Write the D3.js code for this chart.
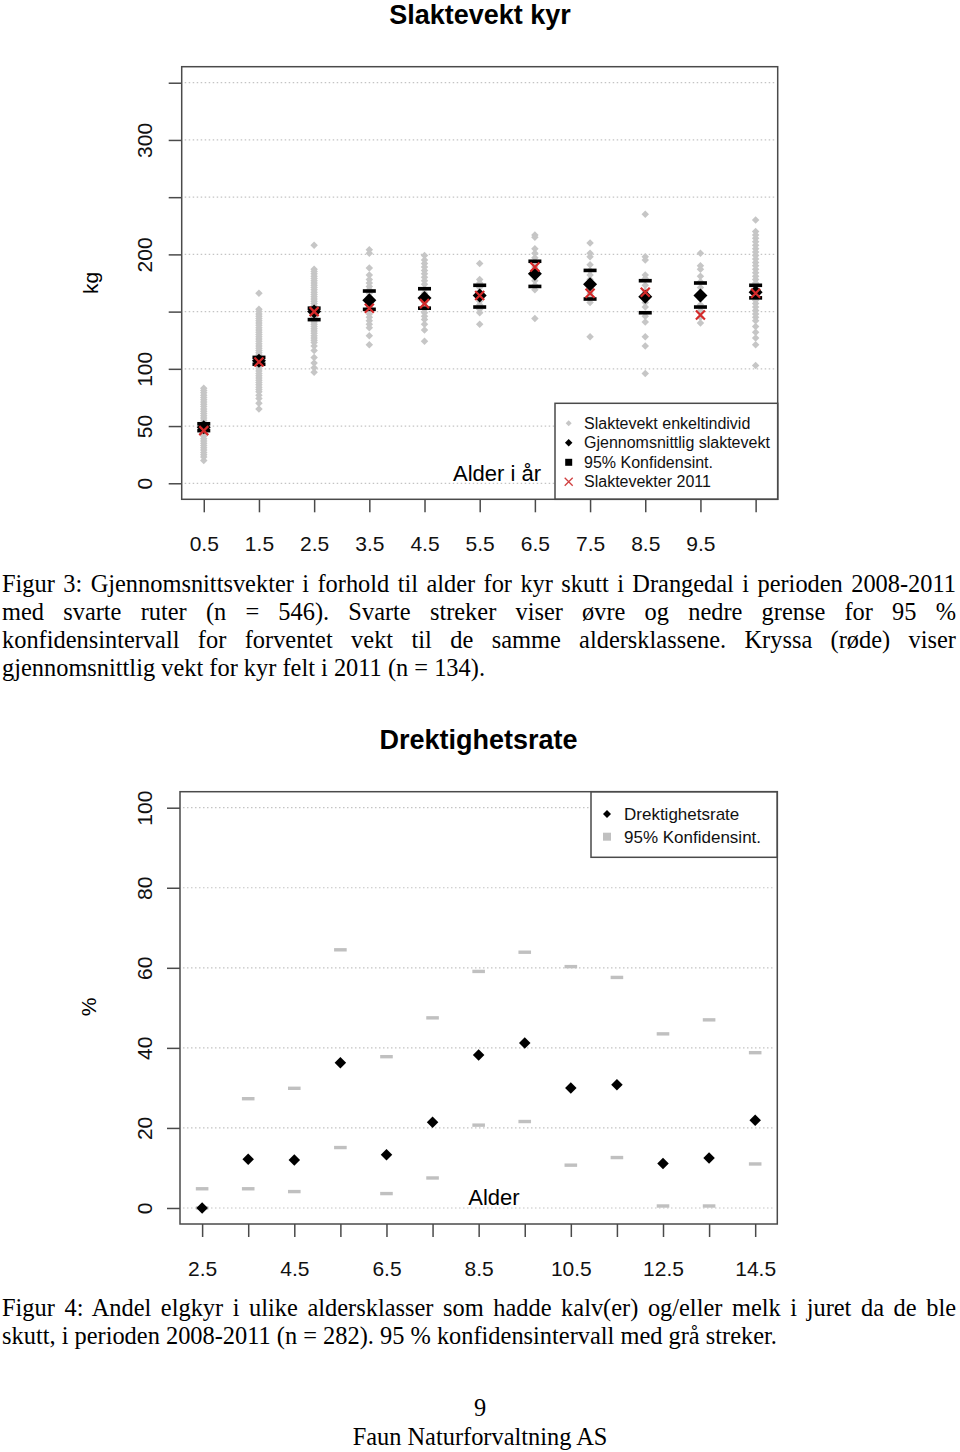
<!DOCTYPE html>
<html><head><meta charset="utf-8">
<script src="https://cdn.jsdelivr.net/npm/d3@7"></script>
<style>body{margin:0;background:#fff} svg{display:block}</style>
</head><body><svg id="c" width="960" height="1452"></svg>
<script>
// ---------- Data: Slaktevekt kyr ----------
const ages = [0.5, 1.5, 2.5, 3.5, 4.5, 5.5, 6.5, 7.5, 8.5, 9.5, 10.5];
const ageTickLabels = ["0.5","1.5","2.5","3.5","4.5","5.5","6.5","7.5","8.5","9.5",""];
const w05 = [83,81,79,77,75,73,71,69,67,65,63,61,59,57,55,53,51,49,47,45,43,41,39,37,35,33,31,29,27,25,23,20];
const w15 = [166,152,150,148,146,144,142,140,138,136,134,132,130,128,126,124,122,120,118,116,114,112,110,108,106,104,102,100,98,96,94,92,90,88,86,84,82,80,77,74,70,65];
const w25 = [208,187,185,183,181,179,177,175,173,171,169,167,165,163,161,159,157,155,153,151,149,147,145,143,141,139,137,135,133,131,129,127,125,123,120,116,110,105,101,97];
const w35 = [204,201,188,182,178,175,172,169,166,163,160,157,154,151,148,145,142,139,136,129,121];
const w45 = [199,195,192,189,186,183,180,177,174,170,166,162,158,155,152,149,146,143,139,134,124];
const w55 = [192,178,175,171,167,163,159,156,152,149,139];
const w65 = [217,215,205,201,197,193,189,185,181,177,173,169,144];
const w75 = [210,201,198,191,186,182,178,174,170,166,162,158,128];
const w85 = [235,198,195,182,179,173,168,163,158,154,146,141,128,120,96];
const w95 = [201,190,187,181,176,171,166,161,156,151,145,140];
const w105 = [230,220,217,214,211,208,205,202,199,196,193,190,187,184,181,178,175,172,169,166,163,160,157,154,151,148,145,142,137,132,127,121,103];
const meanWeight = [49, 107, 150, 160, 162, 164, 183, 174, 163, 164, 167];
const ciLowWeight = [46, 104, 143, 152, 153, 154, 172, 161, 149, 154, 162];
const ciHighWeight = [52, 110, 153, 168, 170, 173, 194, 186, 177, 175, 173];
const mean2011 = [46, 106, 150, 153, 157, 164, 189, 166, 167, 147, 166];
const weightTicks = [0, 50, 100, 150, 200, 250, 300, 350];
const weightTickLabels = ["0","50","100","","200","","300",""];
const legend1 = ["Slaktevekt enkeltindivid","Gjennomsnittlig slaktevekt","95% Konfidensint.","Slaktevekter 2011"];

// ---------- Data: Drektighetsrate ----------
const ages2 = [2.5,3.5,4.5,5.5,6.5,7.5,8.5,9.5,10.5,11.5,12.5,13.5,14.5];
const age2TickLabels = ["2.5","","4.5","","6.5","","8.5","","10.5","","12.5","","14.5"];
const pregRate = [0, 12.2, 12.0, 36.3, 13.3, 21.4, 38.2, 41.2, 30.0, 30.8, 11.1, 12.5, 21.9];
const pregLow = [0, 4.8, 4.1, 15.1, 3.6, 7.5, 20.7, 21.6, 10.7, 12.6, 0.5, 0.5, 11.0];
const pregHigh = [4.8, 27.3, 29.9, 64.5, 37.8, 47.5, 59.1, 63.9, 60.3, 57.6, 43.5, 47.0, 38.8];
const pctTicks = [0, 20, 40, 60, 80, 100];
const legend2 = ["Drektighetsrate","95% Konfidensint."];

// ---------- Captions ----------
const caption3 = [
 "Figur 3: Gjennomsnittsvekter i forhold til alder for kyr skutt i Drangedal i perioden 2008-2011",
 "med svarte ruter (n = 546). Svarte streker viser øvre og nedre grense for 95 %",
 "konfidensintervall for forventet vekt til de samme aldersklassene. Kryssa (røde) viser",
 "gjennomsnittlig vekt for kyr felt i 2011 (n = 134)."
];
const caption4 = [
 "Figur 4: Andel elgkyr i ulike aldersklasser som hadde kalv(er) og/eller melk i juret da de ble",
 "skutt, i perioden 2008-2011 (n = 282). 95 % konfidensintervall med grå streker."
];

const SANS = "'Liberation Sans', Arial, sans-serif";
const SERIF = "'Liberation Serif', 'Times New Roman', serif";
const svg = d3.select("#c");
const AX = "#4a4a4a";

function diamond(w){ return d3.symbol().type(d3.symbolSquare).size(w*w/2)(); }

function frame(g, x0, x1, y0, y1){
  g.append("rect").attr("x",x0).attr("y",y0).attr("width",x1-x0).attr("height",y1-y0)
   .attr("fill","none").attr("stroke",AX).attr("stroke-width",1.5);
}
function grid(g, ys, x0, x1){
  g.selectAll(null).data(ys).join("line")
   .attr("x1",x0+3).attr("x2",x1-3).attr("y1",d=>d).attr("y2",d=>d)
   .attr("stroke","#c4c4c4").attr("stroke-width",1.2).attr("stroke-dasharray","1.5,2.5");
}
function styleAxis(g){
  g.select(".domain").remove();
  g.selectAll(".tick line").attr("stroke",AX).attr("stroke-width",1.5);
  g.selectAll(".tick text").attr("fill","#111").style("font-family",SANS).style("font-size","21px");
}

// ================= Chart 1 =================
const L1 = 181.7, R1 = 777.7, T1 = 66.7, B1 = 499.3;
const x1 = d3.scaleLinear().domain([0.1, 10.9]).range([L1, R1]);
const y1 = d3.scaleLinear().domain([-14, 364]).range([B1, T1]);
const g1 = svg.append("g");

g1.append("text").attr("x",480).attr("y",24).attr("text-anchor","middle")
  .style("font-family",SANS).style("font-size","27px").style("font-weight","bold").text("Slaktevekt kyr");

grid(g1, weightTicks.map(y1), L1, R1);

const yAx1 = g1.append("g").attr("transform",`translate(${L1},0)`)
  .call(d3.axisLeft(y1).tickValues(weightTicks).tickSize(13).tickFormat((d,i)=>weightTickLabels[i]));
styleAxis(yAx1);
yAx1.selectAll(".tick text").attr("transform","rotate(-90)").attr("x",0).attr("y",-30.2).attr("dy",0)
  .attr("text-anchor","middle");

const xAx1 = g1.append("g").attr("transform",`translate(0,${B1})`)
  .call(d3.axisBottom(x1).tickValues(ages).tickSize(13).tickFormat((d,i)=>ageTickLabels[i]));
styleAxis(xAx1);
xAx1.selectAll(".tick text").attr("y",52).attr("dy",0);

g1.append("text").attr("transform","translate(97.5,283) rotate(-90)").attr("text-anchor","middle")
  .style("font-family",SANS).style("font-size","21px").text("kg");

// individual points
const indiv = [w05,w15,w25,w35,w45,w55,w65,w75,w85,w95,w105];
const pts = [];
indiv.forEach((arr,i)=>arr.forEach(v=>pts.push({a:ages[i], v})));
g1.selectAll(null).data(pts).join("path")
  .attr("d", diamond(7.5)).attr("transform",d=>`translate(${x1(d.a)},${y1(d.v)}) rotate(45)`)
  .attr("fill","#c6c6c6");

// CI bars
const ciBars = [];
ages.forEach((a,i)=>{ ciBars.push({a, v:ciLowWeight[i]}); ciBars.push({a, v:ciHighWeight[i]}); });
g1.selectAll(null).data(ciBars).join("rect")
  .attr("x",d=>x1(d.a)-6.5).attr("y",d=>y1(d.v)-1.8).attr("width",13).attr("height",3.6).attr("fill","#000");

// mean diamonds
g1.selectAll(null).data(ages).join("path")
  .attr("d", diamond(14)).attr("transform",(d,i)=>`translate(${x1(d)},${y1(meanWeight[i])}) rotate(45)`)
  .attr("fill","#000");

// red X 2011
function xMark(sel, s){ return sel.attr("d", `M${-s},${-s}L${s},${s}M${-s},${s}L${s},${-s}`); }
xMark(g1.selectAll(null).data(ages).join("path"), 4.5)
  .attr("transform",(d,i)=>`translate(${x1(d)},${y1(mean2011[i])})`)
  .attr("stroke","#d42a2a").attr("stroke-width",2.2).attr("fill","none");

// Alder i år
g1.append("text").attr("x",541).attr("y",481).attr("text-anchor","end")
  .style("font-family",SANS).style("font-size","22px").text("Alder i år");

// legend 1
const lg1 = g1.append("g");
lg1.append("rect").attr("x",555).attr("y",403.3).attr("width",R1-555).attr("height",B1-403.3)
  .attr("fill","#fff").attr("stroke",AX).attr("stroke-width",1.5);
const rows1 = [423.3, 442.7, 462.3, 481.7];
lg1.selectAll(null).data(legend1).join("text").attr("x",584).attr("y",(d,i)=>rows1[i]).attr("dy","0.35em")
  .style("font-family",SANS).style("font-size","16px").attr("fill","#111").text(d=>d);
lg1.append("path").attr("d",diamond(6)).attr("transform",`translate(568.7,${rows1[0]}) rotate(45)`).attr("fill","#c6c6c6");
lg1.append("path").attr("d",diamond(7.5)).attr("transform",`translate(568.7,${rows1[1]}) rotate(45)`).attr("fill","#000");
lg1.append("rect").attr("x",565.2).attr("y",rows1[2]-3.5).attr("width",7).attr("height",7).attr("fill","#000");
xMark(lg1.append("path"),4).attr("transform",`translate(568.7,${rows1[3]})`).attr("stroke","#d04040").attr("stroke-width",1.3);

frame(g1, L1, R1, T1, B1);

// ================= Chart 2 =================
const L2 = 180, R2 = 777.3, T2 = 791.7, B2 = 1224;
const x2 = d3.scaleLinear().domain([2.02, 14.98]).range([L2, R2]);
const y2 = d3.scaleLinear().domain([-4, 104]).range([B2, T2]);
const g2 = svg.append("g");

g2.append("text").attr("x",478.5).attr("y",749).attr("text-anchor","middle")
  .style("font-family",SANS).style("font-size","27px").style("font-weight","bold").text("Drektighetsrate");

grid(g2, pctTicks.map(y2), L2, R2);

const yAx2 = g2.append("g").attr("transform",`translate(${L2},0)`)
  .call(d3.axisLeft(y2).tickValues(pctTicks).tickSize(13));
styleAxis(yAx2);
yAx2.selectAll(".tick text").attr("transform","rotate(-90)").attr("x",0).attr("y",-28.5).attr("dy",0)
  .attr("text-anchor","middle");

const xAx2 = g2.append("g").attr("transform",`translate(0,${B2})`)
  .call(d3.axisBottom(x2).tickValues(ages2).tickSize(13).tickFormat((d,i)=>age2TickLabels[i]));
styleAxis(xAx2);
xAx2.selectAll(".tick text").attr("y",52).attr("dy",0);

g2.append("text").attr("transform","translate(96,1007) rotate(-90)").attr("text-anchor","middle")
  .style("font-family",SANS).style("font-size","21px").text("%");

// CI dashes
const dashes = [];
ages2.forEach((a,i)=>{ dashes.push({a, v:pregLow[i]}); dashes.push({a, v:pregHigh[i]}); });
g2.selectAll(null).data(dashes).join("rect")
  .attr("x",d=>x2(d.a)-6.3).attr("y",d=>y2(d.v)-1.7).attr("width",12.6).attr("height",3.4).attr("fill","#c0c0c0");

g2.selectAll(null).data(ages2).join("path")
  .attr("d", diamond(11.5)).attr("transform",(d,i)=>`translate(${x2(d)},${y2(pregRate[i])}) rotate(45)`)
  .attr("fill","#000");

g2.append("text").attr("x",494).attr("y",1205).attr("text-anchor","middle")
  .style("font-family",SANS).style("font-size","22px").text("Alder");

const lg2 = g2.append("g");
lg2.append("rect").attr("x",591).attr("y",T2).attr("width",R2-591).attr("height",857.3-T2)
  .attr("fill","#fff").attr("stroke",AX).attr("stroke-width",1.5);
const rows2 = [814, 836.7];
lg2.selectAll(null).data(legend2).join("text").attr("x",624).attr("y",(d,i)=>rows2[i]).attr("dy","0.35em")
  .style("font-family",SANS).style("font-size","17px").attr("fill","#111").text(d=>d);
lg2.append("path").attr("d",diamond(8)).attr("transform",`translate(607,${rows2[0]}) rotate(45)`).attr("fill","#000");
lg2.append("rect").attr("x",603).attr("y",rows2[1]-4).attr("width",8).attr("height",8).attr("fill","#c0c0c0");

frame(g2, L2, R2, T2, B2);

// ================= Captions =================
const CAPSIZE = "24.4px";
function captionBlock(lines, baseY, lh){
  lines.forEach((t,i)=>{
    const tx = svg.append("text").attr("x",2).attr("y",baseY+i*lh)
      .style("font-family",SERIF).style("font-size",CAPSIZE).attr("fill","#000").text(t);
    if (i < lines.length-1){
      const nat = tx.node().getComputedTextLength();
      const n = (t.match(/ /g)||[]).length;
      tx.style("word-spacing", ((954 - nat)/n) + "px");
    }
  });
}
captionBlock(caption3, 592, 28);
captionBlock(caption4, 1316, 28);

svg.append("text").attr("x",480).attr("y",1416).attr("text-anchor","middle")
  .style("font-family",SERIF).style("font-size",CAPSIZE).text("9");
svg.append("text").attr("x",480).attr("y",1445).attr("text-anchor","middle")
  .style("font-family",SERIF).style("font-size",CAPSIZE).text("Faun Naturforvaltning AS");
</script></body></html>
